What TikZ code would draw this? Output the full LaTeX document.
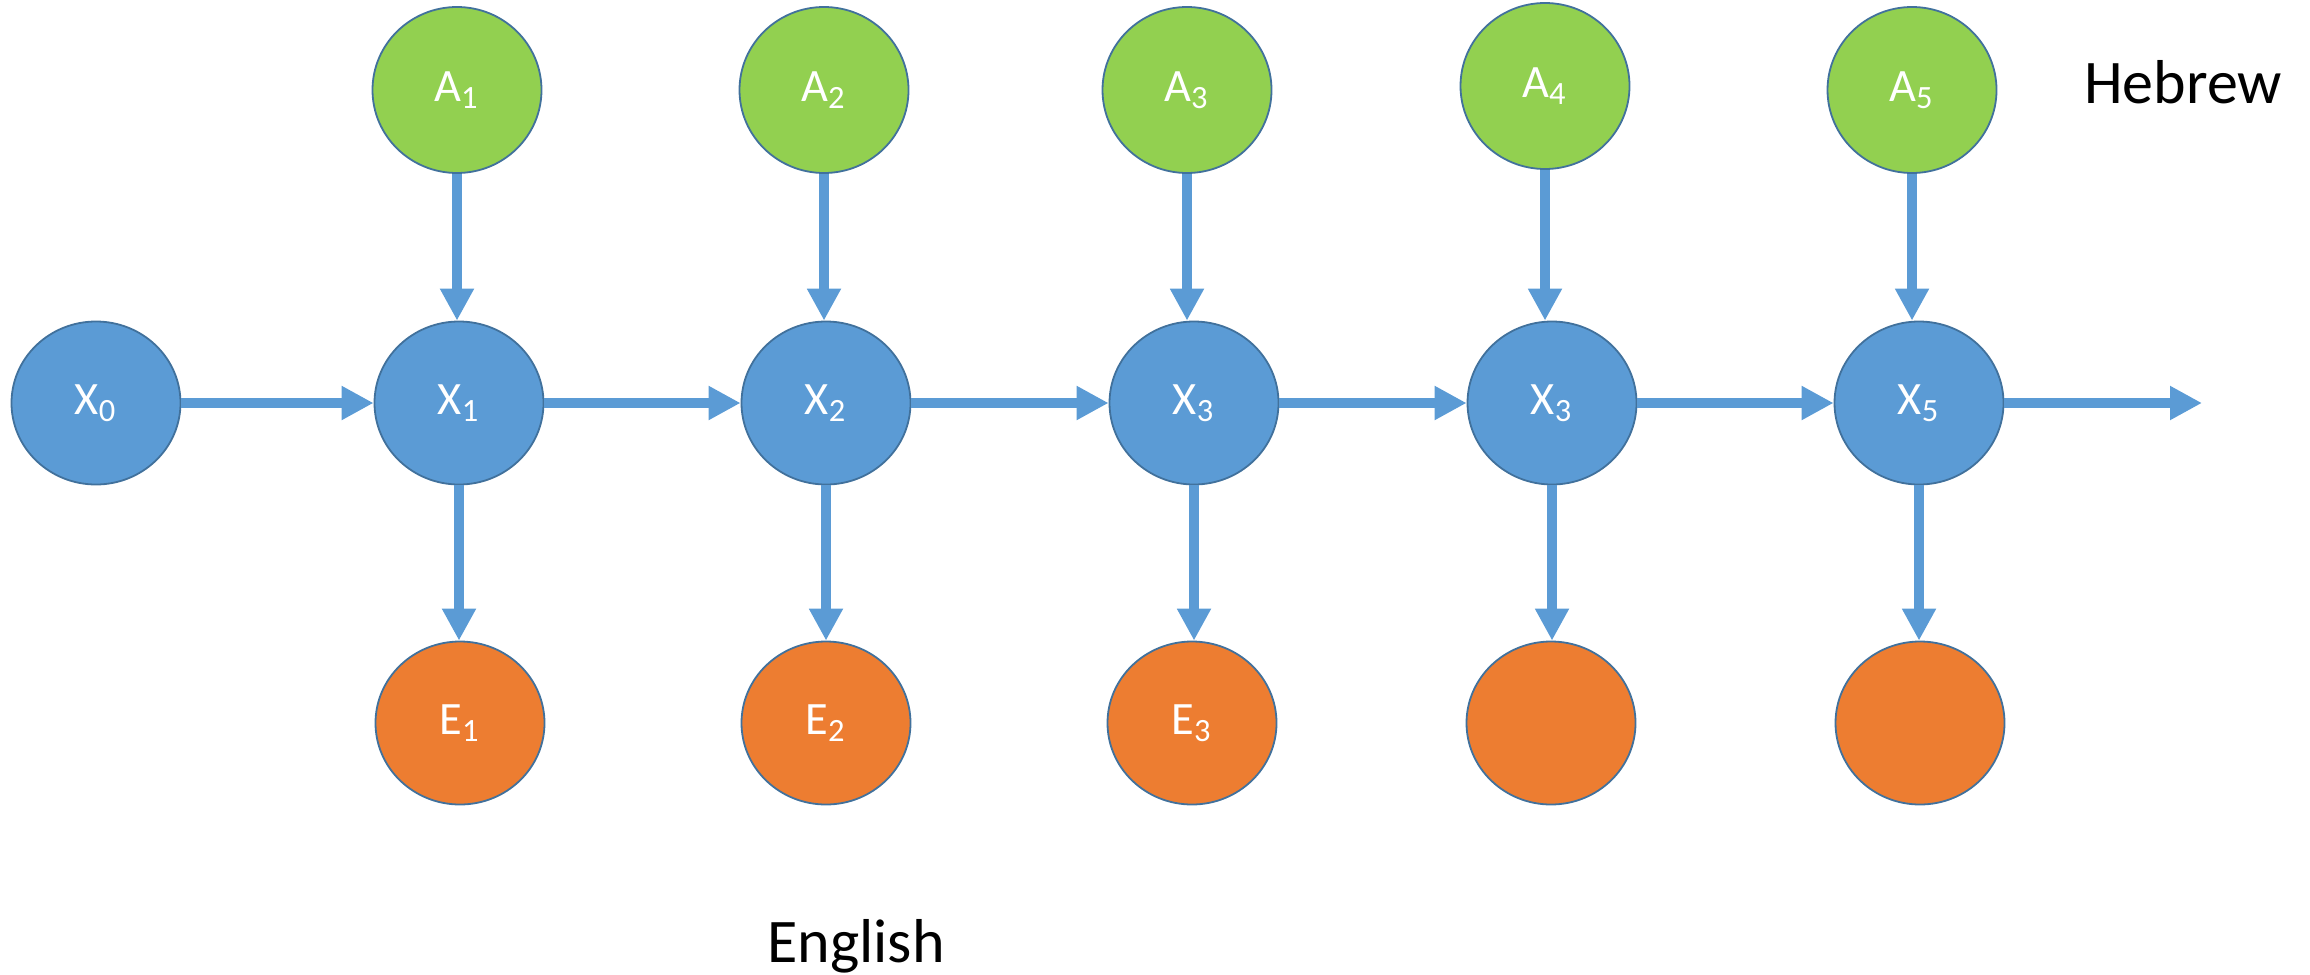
\documentclass[tikz,border=0pt]{standalone}
\usepackage{fontspec}
\setmainfont{Carlito}
\usetikzlibrary{arrows.meta, shapes.geometric}

\definecolor{stateblue}{HTML}{5B9BD5}
\definecolor{stategreen}{HTML}{92D050}
\definecolor{stateorange}{HTML}{ED7D31}
\definecolor{rimblue}{HTML}{41719C}

\begin{document}
\begin{tikzpicture}[x=0.25pt, y=-0.25pt,
    state/.style={ellipse, draw=rimblue, line width=0.45pt, inner sep=0pt,
        minimum width=42.25pt, minimum height=40.75pt,
        text=white, font=\fontsize{11.6}{14}\selectfont},
    hidden/.style={state, fill=stateblue},
    source/.style={state, fill=stategreen, minimum height=41.5pt},
    target/.style={state, fill=stateorange},
    flow/.style={draw=stateblue, line width=2.5pt, -{Triangle[length=8pt, width=8pt]}},
    lang/.style={anchor=base, font=\fontsize{15.5}{18}\selectfont}]
            \useasboundingbox (0,0) rectangle (2310,974);
            % Hidden chain
            \node[hidden] (X0) at (96,403) {X\textsubscript{0}};
            \node[hidden] (X1) at (459,403) {X\textsubscript{1}};
            \node[hidden] (X2) at (826,403) {X\textsubscript{2}};
            \node[hidden] (X3) at (1194,403) {X\textsubscript{3}};
            \node[hidden] (X4) at (1552,403) {X\textsubscript{3}};
            \node[hidden] (X5) at (1919,403) {X\textsubscript{5}};
            \coordinate (out) at (2202,403);
            % Source words
            \node[source] (A1) at (457,90) {A\textsubscript{1}};
            \node[source] (A2) at (824,90) {A\textsubscript{2}};
            \node[source] (A3) at (1187,90) {A\textsubscript{3}};
            \node[source] (A4) at (1545,86) {A\textsubscript{4}};
            \node[source] (A5) at (1912,90) {A\textsubscript{5}};
            % Target words
            \node[target] (E1) at (460,723) {E\textsubscript{1}};
            \node[target] (E2) at (826,723) {E\textsubscript{2}};
            \node[target] (E3) at (1192,723) {E\textsubscript{3}};
            \node[target] (E4) at (1551,723) {};
            \node[target] (E5) at (1920,723) {};
            % Chain arrows
            \draw[flow] (X0.east) -- (X1.west);
            \draw[flow] (X1.east) -- (X2.west);
            \draw[flow] (X2.east) -- (X3.west);
            \draw[flow] (X3.east) -- (X4.west);
            \draw[flow] (X4.east) -- (X5.west);
            \draw[flow] (X5.east) -- (out);
            % Inputs
            \draw[flow] (A1.south) -- (A1.south |- X1.north);
            \draw[flow] (A2.south) -- (A2.south |- X2.north);
            \draw[flow] (A3.south) -- (A3.south |- X3.north);
            \draw[flow] (A4.south) -- (A4.south |- X4.north);
            \draw[flow] (A5.south) -- (A5.south |- X5.north);
            % Outputs
            \draw[flow] (X1.south) -- (X1.south |- E1.north);
            \draw[flow] (X2.south) -- (X2.south |- E2.north);
            \draw[flow] (X3.south) -- (X3.south |- E3.north);
            \draw[flow] (X4.south) -- (X4.south |- E4.north);
            \draw[flow] (X5.south) -- (X5.south |- E5.north);
            % Labels
            \node[lang] (hebrew) at (2183,103) {Hebrew};
            \node[lang] (english) at (856,962) {English};
        \end{tikzpicture}
\end{document}
